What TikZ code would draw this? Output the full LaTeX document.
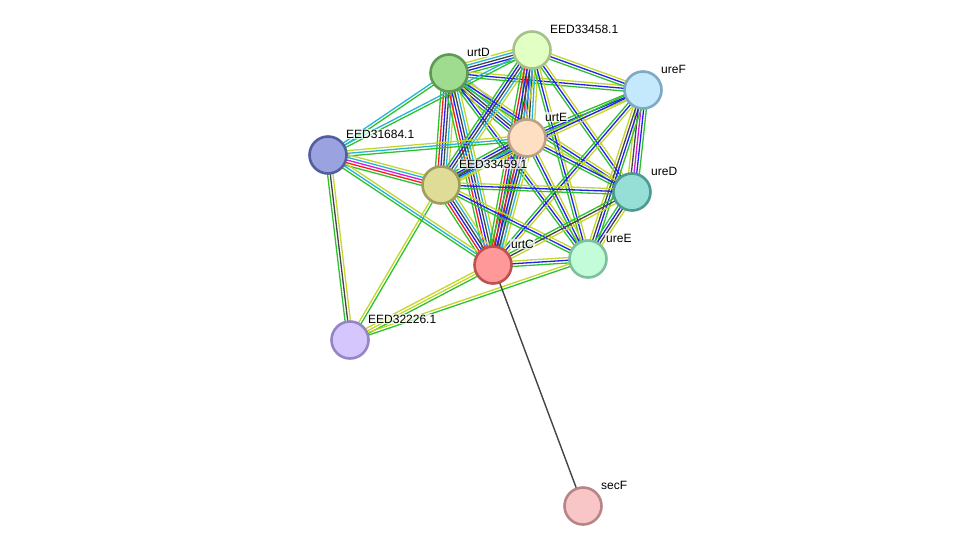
\documentclass[tikz,border=0pt]{standalone}
\usepackage{fontspec}
\setmainfont{Liberation Sans}
\usetikzlibrary{calc}
% evidence channels
\definecolor{evTm}{HTML}{C4D62C}
\definecolor{evNb}{HTML}{2EC12E}
\definecolor{evCo}{HTML}{2020F0}
\definecolor{evCx}{HTML}{444444}
\definecolor{evDb}{HTML}{26B4D8}
\definecolor{evEx}{HTML}{D81CD8}
\definecolor{evFu}{HTML}{F02020}
\definecolor{evHm}{HTML}{A8A8FF}
% protein fills and rims
\definecolor{urtDFill}{HTML}{A0DC90}\definecolor{urtDRim}{HTML}{5E9A52}
\definecolor{ureFFill}{HTML}{C4E8FC}\definecolor{ureFRim}{HTML}{7FA8C4}
\definecolor{urtEFill}{HTML}{FFDFC2}\definecolor{urtERim}{HTML}{BEA088}
\definecolor{ureDFill}{HTML}{96DFD6}\definecolor{ureDRim}{HTML}{4E9A92}
\definecolor{urtCFill}{HTML}{FF9898}\definecolor{urtCRim}{HTML}{BE5050}
\definecolor{ureEFill}{HTML}{C2FCD8}\definecolor{ureERim}{HTML}{7EBFA0}
\definecolor{secFFill}{HTML}{F8C6C6}\definecolor{secFRim}{HTML}{B88484}
\definecolor{eA58Fill}{HTML}{E2FFC4}\definecolor{eA58Rim}{HTML}{A6C288}
\definecolor{eB84Fill}{HTML}{9AA3E0}\definecolor{eB84Rim}{HTML}{535EA0}
\definecolor{eC59Fill}{HTML}{DFDC98}\definecolor{eC59Rim}{HTML}{9E9E5C}
\definecolor{eD26Fill}{HTML}{D6C6FE}\definecolor{eD26Rim}{HTML}{9684C6}
\pgfdeclarelayer{edges}
\pgfsetlayers{edges,main}
% one line per evidence colour, side by side
\newcommand\lnk[3]{%
  \foreach \col [count=\k] in {#3} {\xdef\lnkn{\k}}%
  \foreach \col [count=\k] in {#3} {%
    \pgfmathsetmacro\off{(\k-(\lnkn+1)/2)*2.7}%
    \draw[edge,draw=\col] ($(#1.center)!\off pt!90:(#2.center)$) -- ($(#2.center)!\off pt!-90:(#1.center)$);}}

\begin{document}
\begin{tikzpicture}[
  x=1pt, y=-1pt,
  prot/.style={circle, line width=2.6pt, minimum size=37pt, inner sep=0pt},
  lbl/.style={anchor=west, inner sep=1pt, fill=white, fill opacity=.7, text opacity=1,
    font=\fontsize{12}{14}\selectfont},
  edge/.style={line width=1.3pt}
]
  \useasboundingbox (0,0) rectangle (975,552);
  \node[prot,fill=urtDFill,draw=urtDRim] (urtD) at (449,73) {};
  \node[prot,fill=eA58Fill,draw=eA58Rim] (eA58) at (532,50) {};
  \node[prot,fill=ureFFill,draw=ureFRim] (ureF) at (643,90) {};
  \node[prot,fill=urtEFill,draw=urtERim] (urtE) at (527,138) {};
  \node[prot,fill=eB84Fill,draw=eB84Rim] (eB84) at (328,155) {};
  \node[prot,fill=eC59Fill,draw=eC59Rim] (eC59) at (441,185) {};
  \node[prot,fill=ureDFill,draw=ureDRim] (ureD) at (632,192) {};
  \node[prot,fill=urtCFill,draw=urtCRim] (urtC) at (493,265) {};
  \node[prot,fill=ureEFill,draw=ureERim] (ureE) at (588,259) {};
  \node[prot,fill=eD26Fill,draw=eD26Rim] (eD26) at (350,340) {};
  \node[prot,fill=secFFill,draw=secFRim] (secF) at (583,506) {};

  \begin{pgfonlayer}{edges}
    \lnk{urtD}{eA58}{evNb,evCo,evCx,evDb,evTm}
    \lnk{urtD}{ureF}{evNb,evCo,evTm}
    \lnk{urtD}{urtE}{evNb,evCo,evCx,evDb,evTm,evHm}
    \lnk{urtD}{eB84}{evDb,evNb}
    \lnk{urtD}{eC59}{evNb,evFu,evCo,evCx,evDb,evTm}
    \lnk{urtD}{urtC}{evNb,evFu,evCo,evCx,evDb,evTm}
    \lnk{urtD}{ureD}{evNb,evCo,evTm}
    \lnk{urtD}{ureE}{evNb,evCo,evTm}
    \lnk{eA58}{ureF}{evNb,evCo,evTm}
    \lnk{eA58}{urtE}{evNb,evFu,evCo,evCx,evDb,evTm}
    \lnk{eA58}{eB84}{evDb,evNb}
    \lnk{eA58}{eC59}{evNb,evCo,evCx,evDb,evTm}
    \lnk{eA58}{urtC}{evNb,evFu,evCo,evCx,evDb,evTm}
    \lnk{eA58}{ureD}{evNb,evCo,evTm}
    \lnk{eA58}{ureE}{evNb,evCo,evTm}
    \lnk{ureF}{urtE}{evNb,evCo,evTm}
    \lnk{ureF}{eC59}{evNb,evCo,evTm}
    \lnk{ureF}{urtC}{evNb,evCo,evTm}
    \lnk{ureF}{ureD}{evTm,evCx,evEx,evCo,evNb}
    \lnk{ureF}{ureE}{evTm,evCx,evCo,evNb}
    \lnk{urtE}{eC59}{evNb,evCo,evCx,evDb,evTm}
    \lnk{urtE}{urtC}{evNb,evFu,evCo,evCx,evDb,evTm}
    \lnk{urtE}{ureD}{evNb,evCo,evTm}
    \lnk{urtE}{ureE}{evNb,evCo,evTm}
    \lnk{urtE}{eB84}{evTm,evDb,evNb}
    \lnk{eC59}{urtC}{evNb,evFu,evCo,evCx,evDb,evTm}
    \lnk{eC59}{ureD}{evNb,evCo,evTm}
    \lnk{eC59}{ureE}{evNb,evCo,evTm}
    \lnk{eC59}{eB84}{evTm,evDb,evEx,evFu,evNb}
    \lnk{eC59}{eD26}{evTm,evNb}
    \lnk{eB84}{urtC}{evNb,evDb,evTm}
    \lnk{eB84}{eD26}{evNb,evCx,evTm}
    \lnk{urtC}{ureE}{evNb,evCo,evTm}
    \lnk{urtC}{ureD}{evTm,evCx,evNb}
    \lnk{urtC}{eD26}{evTm,evTm,evNb}
    \lnk{ureE}{eD26}{evTm,evNb}
    \lnk{ureD}{ureE}{evNb,evCo,evCx,evTm}
    \draw[edge,draw=evCx,line width=1.4pt] (urtC.center) -- (secF.center);
  \end{pgfonlayer}

  \node[lbl] (urtD-l) at ($(urtD.center)+(17,-21)$) {urtD};
  \node[lbl] (eA58-l) at ($(eA58.center)+(17,-21)$) {EED33458.1};
  \node[lbl] (ureF-l) at ($(ureF.center)+(17,-21)$) {ureF};
  \node[lbl] (urtE-l) at ($(urtE.center)+(17,-21)$) {urtE};
  \node[lbl] (eB84-l) at ($(eB84.center)+(17,-21)$) {EED31684.1};
  \node[lbl] (eC59-l) at ($(eC59.center)+(17,-21)$) {EED33459.1};
  \node[lbl] (ureD-l) at ($(ureD.center)+(18,-21)$) {ureD};
  \node[lbl] (urtC-l) at ($(urtC.center)+(17,-21)$) {urtC};
  \node[lbl] (ureE-l) at ($(ureE.center)+(17,-21)$) {ureE};
  \node[lbl] (eD26-l) at ($(eD26.center)+(17,-21)$) {EED32226.1};
  \node[lbl] (secF-l) at ($(secF.center)+(17,-21)$) {secF};
\end{tikzpicture}
\end{document}
